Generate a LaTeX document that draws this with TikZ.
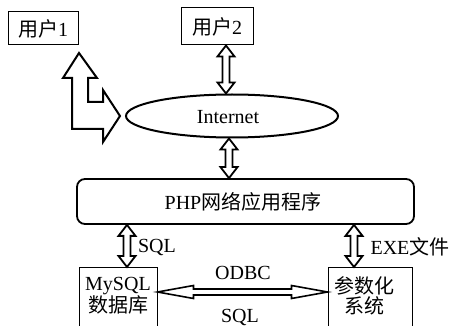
\documentclass[tikz,border=0pt]{standalone}
\usepackage{fontspec}
\setmainfont{Liberation Serif}
\newfontfamily\cjk{Noto Sans CJK SC}
\usetikzlibrary{calc,shapes.geometric}
\tikzset{
  box/.style={draw, line width=1pt, inner sep=0pt},
  blockarrow/.style={draw, line width=1.8pt, fill=white, line join=miter},
  lbl/.style={inner sep=0pt}
}
% vertical block double arrow: #1 top point (gives x), #2 bottom point
\newcommand\vblock[2]{%
  \draw[blockarrow] let \p1=(#1), \p2=(#2) in
    (\x1,\y1) -- (\x1+8.5pt,\y1-11pt) -- (\x1+3.5pt,\y1-11pt) -- (\x1+3.5pt,\y2+11pt)
    -- (\x1+8.5pt,\y2+11pt) -- (\x1,\y2) -- (\x1-8.5pt,\y2+11pt) -- (\x1-3.5pt,\y2+11pt)
    -- (\x1-3.5pt,\y1-11pt) -- (\x1-8.5pt,\y1-11pt) -- cycle;}
% horizontal block double arrow: #1 left point (gives y), #2 right point
\newcommand\hblock[2]{%
  \draw[blockarrow, line width=1.6pt] let \p1=(#1), \p2=(#2) in
    (\x1,\y1) -- (\x1+36pt,\y1+6.5pt) -- (\x1+36pt,\y1+3pt) -- (\x2-36pt,\y1+3pt)
    -- (\x2-36pt,\y1+6.5pt) -- (\x2,\y1) -- (\x2-36pt,\y1-6.5pt) -- (\x2-36pt,\y1-3pt)
    -- (\x1+36pt,\y1-3pt) -- (\x1+36pt,\y1-6.5pt) -- cycle;}
\begin{document}
\begin{tikzpicture}[x=1pt,y=-1pt, font=\fontsize{20}{20}\selectfont]
\path[use as bounding box] (0,0) rectangle (453,326);
\clip (0,0) rectangle (453,326);

\node[box, minimum width=70pt, minimum height=33pt] (u1) at (43,28.5) {{\cjk 用户}1};
\node[box, minimum width=72pt, minimum height=37pt] (u2) at (217,26.5) {{\cjk 用户}2};
\node[draw, ellipse, line width=2pt, minimum width=212pt, minimum height=43pt, inner sep=0pt] (net) at (232,116) {};
\node[lbl] (nett) at (228,117) {Internet};
\node[draw, rounded corners=8pt, line width=1.8pt, minimum width=337pt, minimum height=45pt, inner sep=0pt] (php) at (245.5,201.5) {};
\node[lbl] (phpt) at (243,202) {PHP{\cjk 网络应用程序}};

\node[box, minimum width=78pt, minimum height=80pt, anchor=north] (db) at (118,267) {};
\node[lbl, align=center] (dbt) at (118,296) {MySQL\\{\cjk 数据库}};
\node[box, minimum width=84pt, minimum height=80pt, anchor=north] (par) at (370,267) {};
\node[lbl, align=center, font=\fontsize{20}{20}\selectfont\cjk] (part) at (364,296) {参数化\\系统};

% arrows
\coordinate (a1) at ([xshift=9pt]u2.south);
\vblock{a1}{net.north}
\coordinate (a2) at ([xshift=-3pt]net.south);
\vblock{a2}{php.north}
\coordinate (a3) at ([xshift=9pt]db.north);
\vblock{a3 |- php.south}{a3}
\coordinate (a4) at ([xshift=-16pt]par.north);
\vblock{a4 |- php.south}{a4}
\coordinate (a5) at ([yshift=-25pt]db.north east);
\hblock{a5}{par.west}

% L-shaped arrow from user1 to Internet
\draw[blockarrow, line width=2pt] (79,53) -- (97,78) -- (88,78) -- (88,102) -- (103,102)
  -- (103,90) -- (120,116) -- (103,142) -- (103,129) -- (72,129) -- (72,78) -- (63,78) -- cycle;

\node[lbl] (l1) at (157,247) {SQL};
\node[lbl] (l2) at (410,247) {EXE{\cjk 文件}};
\node[lbl] (l3) at (243,273) {ODBC};
\node[lbl] (l4) at (240,317) {SQL};
\end{tikzpicture}
\end{document}
